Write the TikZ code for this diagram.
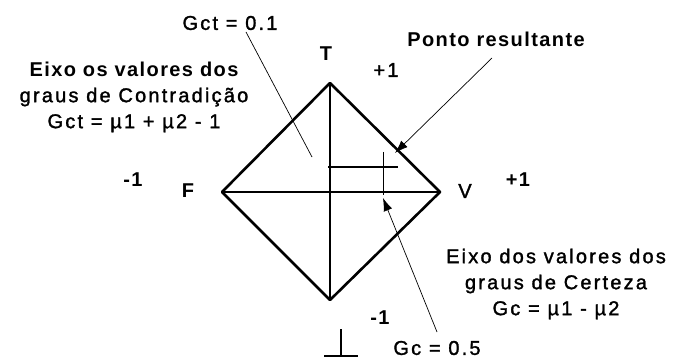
\documentclass[tikz,border=0pt]{standalone}
\usepackage{fontspec}
\setmainfont{Liberation Sans}
\newfontfamily\rfont{Liberation Sans}[LetterSpace=11,FakeBold=1.5]
\newfontfamily\bfont{Liberation Sans}[LetterSpace=7]
\usetikzlibrary{arrows.meta}
\begin{document}
\begin{tikzpicture}[x=1pt,y=-1pt,
  edgeline/.style={line width=2.6pt, line join=round},
  axisline/.style={line width=1.3pt},
  thinline/.style={line width=0.7pt},
  lbl/.style={font=\fontsize{20}{26}\rfont, inner sep=0pt, align=center},
  blbl/.style={font=\fontsize{20}{26}\bfont\bfseries, inner sep=0pt, align=center},
  arr/.style={line width=0.7pt, -{Latex[length=13pt,width=9pt]}}]
\useasboundingbox (0,0) rectangle (675,358);
% diamond
\coordinate (T) at (330,83);
\coordinate (V) at (440,192);
\coordinate (B) at (330,300);
\coordinate (F) at (222,192);
\draw[edgeline] (T) -- (V) -- (B) -- (F) -- cycle;
\draw[axisline] (T) -- (B);
\draw[axisline] (F) -- (V);
% resultant point lines
\coordinate (h1) at (328,167);
\coordinate (h2) at (398,167);
\coordinate (v1) at (383,152);
\coordinate (v2) at (383,195);
\draw[axisline] (h1) -- (h2);
\draw[thinline] (v1) -- (v2);
% labels
\node[blbl] (lT) at (326,54) {T};
\node[blbl] (lF) at (188,191) {F};
\node[lbl] (lV) at (465,191) {V};
\node[lbl] (ptop) at (386,70) {+1};
\node[blbl] (pright) at (518,180) {+1};
\node[blbl] (mleft) at (133,180) {-1};
\node[blbl] (mbot) at (380,318) {-1};
\node[lbl] (gct) at (230,23) {Gct = 0.1};
\node[blbl] (pr) at (496,39) {Ponto resultante};
\node[lbl] (gc) at (437,348) {Gc = 0.5};
\node[lbl] (leftbox) at (134,97) {{\bfont\bfseries Eixo os valores dos}\\graus de Contradição\\Gct = µ1 + µ2 - 1};
\node[lbl] (rightbox) at (556,284) {Eixo dos valores dos\\graus de Certeza\\Gc = µ1 - µ2};
% leaders
\coordinate (gctstart) at (246,32);
\coordinate (gctend) at (312,157);
\draw[thinline] (gctstart) -- (gctend);
\coordinate (prstart) at (492,58);
\coordinate (prtip) at (395,153);
\draw[arr] (prstart) -- (prtip);
\coordinate (gcstart) at (437,332);
\coordinate (gctip) at (383,198);
\draw[arr] (gcstart) -- (gctip);
% bottom symbol
\coordinate (s1) at (341,329);
\coordinate (s2) at (341,356);
\coordinate (s3) at (324,356);
\coordinate (s4) at (358,356);
\draw[axisline] (s1) -- (s2);
\draw[axisline] (s3) -- (s4);
\end{tikzpicture}
\end{document}
